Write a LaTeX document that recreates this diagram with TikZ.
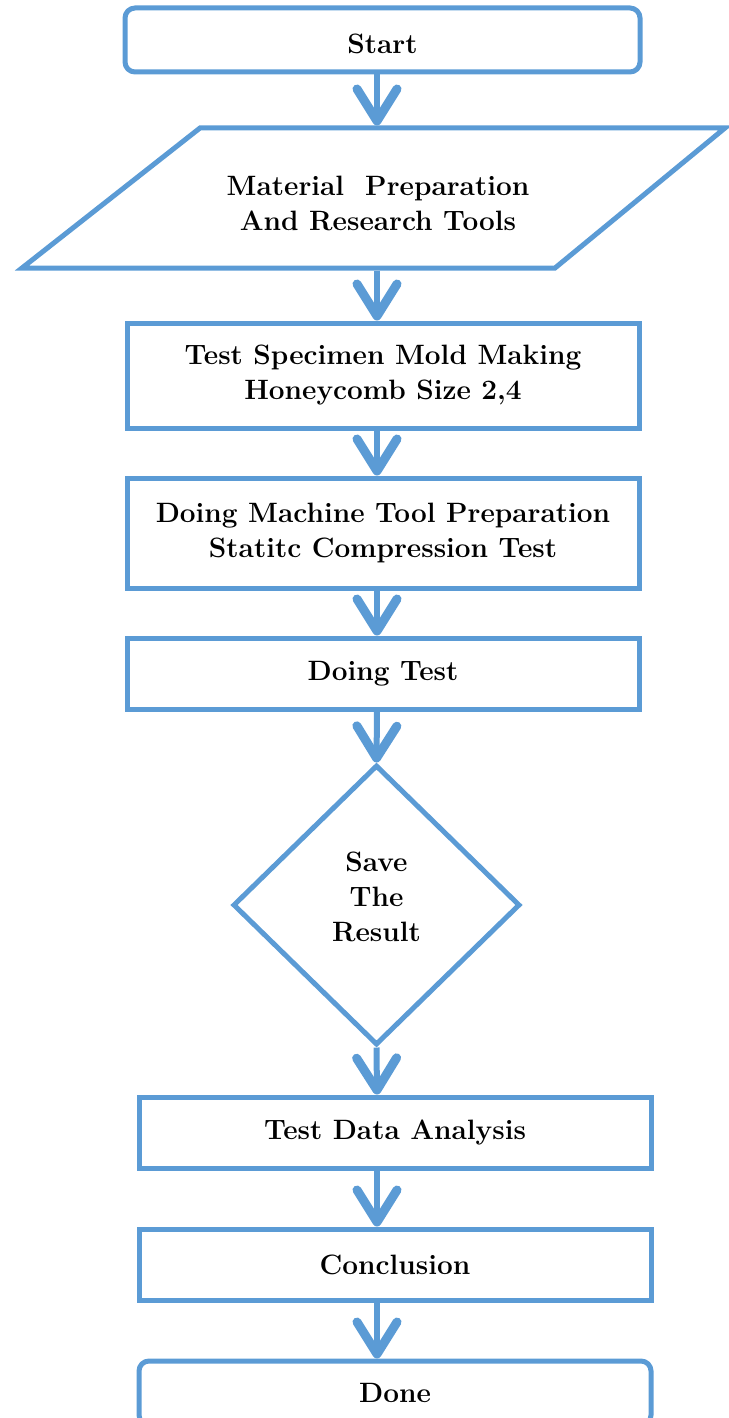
\documentclass[tikz,border=0pt]{standalone}
\usetikzlibrary{shapes.geometric,arrows.meta}
\definecolor{fb}{HTML}{5B9BD5}
\begin{document}
\begin{tikzpicture}[x=0.5pt,y=-0.5pt,
  txt/.style={align=center, font=\bfseries\fontsize{14}{17.5}\selectfont, text=black},
  box/.style={txt, draw=fb, line width=2.5pt, rectangle, inner sep=0pt, minimum width=256pt},
  term/.style={box, rounded corners=5pt},
  dec/.style={txt, draw=fb, line width=2.5pt, diamond, inner sep=0pt, minimum width=143.5pt, minimum height=140pt},
  arr/.style={draw=fb, line width=3pt, -{Straight Barb[length=16pt, width=20pt, line width=4.5pt, round]}}
]
\useasboundingbox (0,0) rectangle (728,1418);
\coordinate (ax) at (377,0);
\node[term, minimum width=257.5pt, minimum height=32pt, text height=13.6pt] (start) at (382.5,40) {Start};
\node[minimum width=351.5pt, minimum height=70pt, inner sep=0pt, outer sep=1.25pt] (mat) at (373.5,198) {};
\draw[fb, line width=2.5pt, line join=miter] (200,128) -- (725,128) -- (555,268) -- (22,268) -- cycle;
\node[txt] (matlabel) at (378,203) {Material\ \ Preparation\\And Research Tools};
\node[box, minimum height=52.5pt] (b3) at (383,375.5) {Test Specimen Mold Making\\Honeycomb Size 2,4};
\node[box, minimum height=55pt] (b4) at (383,533) {Doing Machine Tool Preparation\\Statitc Compression Test};
\node[box, minimum height=35.5pt] (b5) at (383,673.5) {Doing Test};
\node[dec, text depth=8pt] (d) at (376.5,905) {Save\\The\\Result};
\node[box, minimum height=35.5pt] (b7) at (395,1132.5) {Test Data Analysis};
\node[box, minimum height=35.5pt] (b8) at (395,1264.5) {Conclusion};
\node[term, minimum height=32pt] (done) at (395,1393) {Done};
\draw[arr] (ax |- start.south) -- (ax |- mat.north);
\draw[arr] (ax |- mat.south) -- (ax |- b3.north);
\draw[arr] (ax |- b3.south) -- (ax |- b4.north);
\draw[arr] (ax |- b4.south) -- (ax |- b5.north);
\draw[arr] (ax |- b5.south) -- (d.north);
\draw[arr] (d.south) -- (ax |- b7.north);
\draw[arr] (ax |- b7.south) -- (ax |- b8.north);
\draw[arr] (ax |- b8.south) -- (ax |- done.north);
\end{tikzpicture}
\end{document}
